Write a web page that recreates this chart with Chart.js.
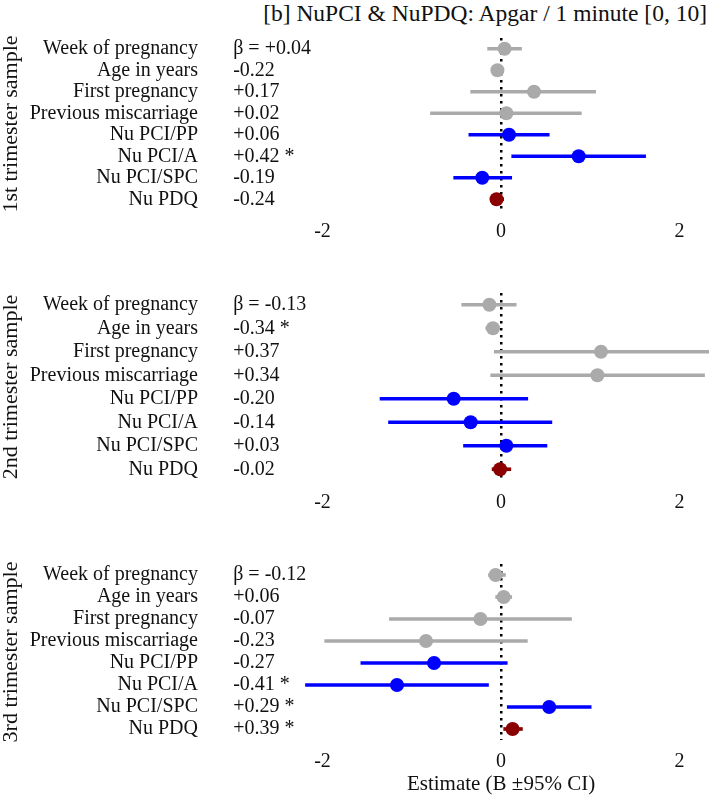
<!DOCTYPE html>
<html lang="en">
<head>
    <meta charset="UTF-8">
    <title>NuPCI & NuPDQ: Apgar / 1 minute</title>
    <style>
        body { margin: 0; background: #fff; }
        .page { position: relative; width: 709px; height: 797px; font-family: "Liberation Serif", serif; }
        .title { position: absolute; top: 0px; right: 2px; font-size: 23.5px; color: #111; white-space: nowrap; }
        .panel { position: absolute; left: 0; width: 709px; }
    </style>
</head>
<body>
<div class="page">
    <div class="title">[b] NuPCI &amp; NuPDQ: Apgar / 1 minute [0, 10]</div>
    <div class="panel" style="top: 30px; height: 220px;"><canvas id="t1"></canvas></div>
    <div class="panel" style="top: 280px; height: 241px;"><canvas id="t2"></canvas></div>
    <div class="panel" style="top: 550px; height: 247px;"><canvas id="t3"></canvas></div>
</div>

<script src="https://cdn.jsdelivr.net/npm/chart.js@4.4.1/dist/chart.umd.min.js"></script>
<script>
    const variables = ['Week of pregnancy', 'Age in years', 'First pregnancy', 'Previous miscarriage',
        'Nu PCI/PP', 'Nu PCI/A', 'Nu PCI/SPC', 'Nu PDQ'];
    const xTicks = [-2, 0, 2];

    // 1st trimester
    const estT1 = [0.04, -0.04, 0.37, 0.06, 0.09, 0.87, -0.21, -0.05];
    const loT1 = [-0.15, -0.07, -0.34, -0.79, -0.36, 0.12, -0.53, -0.12];
    const hiT1 = [0.23, -0.01, 1.06, 0.90, 0.54, 1.62, 0.12, 0.03];
    const betaT1 = ['+0.04', '-0.22', '+0.17', '+0.02', '+0.06', '+0.42 *', '-0.19', '-0.24'];

    // 2nd trimester
    const estT2 = [-0.13, -0.09, 1.12, 1.08, -0.53, -0.34, 0.06, -0.01];
    const loT2 = [-0.44, -0.17, -0.075, -0.115, -1.355, -1.26, -0.42, -0.10];
    const hiT2 = [0.17, -0.02, 2.40, 2.28, 0.30, 0.57, 0.515, 0.11];
    const betaT2 = ['-0.13', '-0.34 *', '+0.37', '+0.34', '-0.20', '-0.14', '+0.03', '-0.02'];

    // 3rd trimester
    const estT3 = [-0.06, 0.03, -0.23, -0.84, -0.75, -1.165, 0.54, 0.13];
    const loT3 = [-0.14, -0.06, -1.25, -1.975, -1.57, -2.19, 0.07, 0.03];
    const hiT3 = [0.05, 0.12, 0.79, 0.295, 0.07, -0.14, 1.01, 0.24];
    const betaT3 = ['-0.12', '+0.06', '-0.07', '-0.23', '-0.27', '-0.41 *', '+0.29 *', '+0.39 *'];

    const colors = {
        grey: '#AAAAAA',
        blue: '#0000FF',
        red: '#8B0000'
    };
    const rowColors = [colors.grey, colors.grey, colors.grey, colors.grey,
        colors.blue, colors.blue, colors.blue, colors.red];

    const textColor = '#111';
    const family = '"Liberation Serif", serif';
    const font = { family: family, size: 20 };

    // beta column, placed at x = -3 on the estimate scale
    const betaLabels = {
        id: 'betaLabels',
        afterDraw(chart, args, opts) {
            const ctx = chart.ctx;
            const x = chart.scales.x.getPixelForValue(-3);
            ctx.save();
            ctx.font = font.size + 'px ' + family;
            ctx.fillStyle = textColor;
            ctx.textAlign = 'left';
            ctx.textBaseline = 'middle';
            opts.values.forEach((v, i) => {
                const y = chart.scales.y.getPixelForValue(i);
                ctx.fillText((i === 0 ? 'β = ' : '') + v, x, y);
            });
            ctx.restore();
        }
    };

    function makePanel(id, title, est, lo, hi, betas, padTop, xHeight, showXTitle) {
        const ctx = document.getElementById(id).getContext('2d');
        return new Chart(ctx, {
            type: 'bar',
            data: {
                labels: variables,
                datasets: [{
                    type: 'line',
                    data: est,
                    showLine: false,
                    pointRadius: 7,
                    pointHoverRadius: 7,
                    pointBorderWidth: 0,
                    pointBackgroundColor: rowColors,
                    order: 0
                },
                {
                    data: lo.map((v, i) => [v, hi[i]]),
                    backgroundColor: rowColors,
                    barThickness: 3,
                    borderWidth: 0,
                    borderSkipped: false,
                    order: 1
                }]
            },
            options: {
                indexAxis: 'y',
                responsive: true,
                maintainAspectRatio: false,
                animation: false,
                layout: { autoPadding: false, padding: { top: padTop, right: 0, left: 0, bottom: 0 } },
                plugins: {
                    legend: { display: false },
                    tooltip: { enabled: false },
                    betaLabels: { values: betas }
                },
                scales: {
                    x: {
                        type: 'linear',
                        min: -2.33,
                        max: 2.33,
                        afterBuildTicks: (s) => { s.ticks = xTicks.map(v => ({ value: v })); },
                        afterFit: (s) => {
                            s.height = xHeight;
                            s.paddingLeft = 0;
                            s.paddingRight = 0;
                        },
                        ticks: { font: font, color: textColor, padding: 10 },
                        grid: {
                            drawTicks: false,
                            lineWidth: 2.5,
                            color: (c) => (c.tick && c.tick.value === 0) ? '#000' : 'rgba(0,0,0,0)'
                        },
                        border: { display: false, dash: [2.5, 4.5] },
                        title: {
                            display: showXTitle,
                            text: 'Estimate (Β ±95% CI)',
                            font: { family: family, size: 21 },
                            color: textColor,
                            padding: { top: 0, bottom: 0 }
                        }
                    },
                    y: {
                        type: 'category',
                        afterFit: (s) => {
                            s.width = 293;
                            s.paddingTop = 0;
                            s.paddingBottom = 0;
                        },
                        ticks: { font: font, color: textColor, padding: 95, autoSkip: false },
                        grid: { display: false, drawTicks: false },
                        border: { display: false },
                        title: {
                            display: true,
                            text: title,
                            font: { family: family, size: 22, lineHeight: 1 },
                            color: textColor,
                            padding: { top: 0, bottom: 0 }
                        }
                    }
                }
            },
            plugins: [betaLabels]
        });
    }

    makePanel('t1', '1st trimester sample', estT1, loT1, hiT1, betaT1, 8, 40, false);
    makePanel('t2', '2nd trimester sample', estT2, loT2, hiT2, betaT2, 13, 40, false);
    makePanel('t3', '3rd trimester sample', estT3, loT3, hiT3, betaT3, 14, 57, true);
</script>
</body>
</html>
